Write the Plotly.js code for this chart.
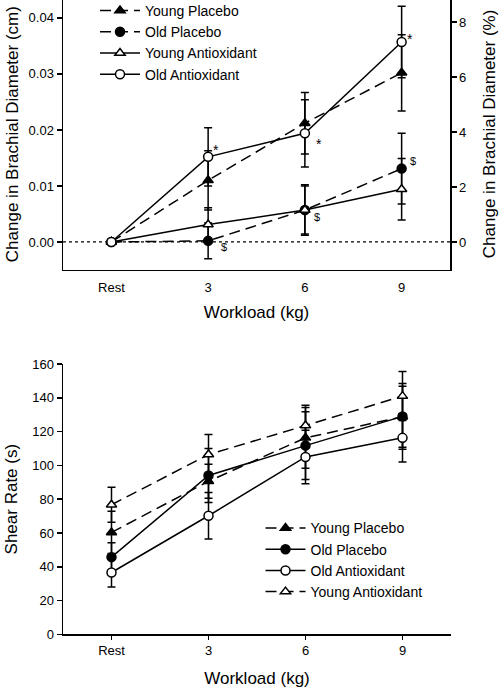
<!DOCTYPE html>
<html>
<head>
<meta charset="utf-8">
<script src="https://cdn.plot.ly/plotly-3.0.1.min.js"></script>
<style>html,body{margin:0;padding:0;background:#fff;}#chart{width:500px;height:688px;}</style>
</head>
<body>
<div id="chart"></div>
<script>
// ---- data ----
var categories = ['Rest', '3', '6', '9'];
var xIndex = [0, 1, 2, 3];

// Top panel: change in brachial diameter (cm)
var youngPlaceboDiam = [0, 0.0110, 0.0212, 0.0302];
var youngPlaceboDiamErr = [null, 0.0053, 0.0055, 0.0068];
var oldPlaceboDiam = [0, 0.0002, 0.0057, 0.0131];
var oldPlaceboDiamErr = [null, 0.0032, 0.0045, 0.0063];
var youngAntioxDiam = [0, 0.0031, 0.0057, 0.0094];
var youngAntioxDiamErr = [null, 0.0030, 0.0043, 0.0055];
var oldAntioxDiam = [0, 0.0152, 0.0194, 0.0357];
var oldAntioxDiamErr = [null, 0.0052, 0.0060, 0.0064];

var leftTicks = [0, 0.01, 0.02, 0.03, 0.04];
var rightTicks = [0, 2, 4, 6, 8];

// significance marks (top panel)
var starIdx = [1, 2, 3];     // '*' on Old Antioxidant
var dollarIdx = [1, 2, 3];   // '$' on Old Placebo

// Bottom panel: shear rate
var youngPlaceboShear = [60.3, 90.6, 116.3, 128.8];
var youngPlaceboShearErr = [12.5, 10, 18, 18];
var oldPlaceboShear = [45.7, 94, 111.7, 129];
var oldPlaceboShearErr = [8.5, 16, 20, 19.5];
var oldAntioxShear = [36.6, 70.2, 105, 116.3];
var oldAntioxShearErr = [8.6, 13.8, 15.8, 14.3];
var youngAntioxShear = [76.7, 106.4, 123.6, 141];
var youngAntioxShearErr = [10.3, 11.9, 12, 14.5];

// ---- styling helpers ----
var FONT = 'Liberation Sans, Arial, Helvetica, sans-serif';
var DASH = '11px,6px';
function errs(a){ return a.map(function(v){ return v === null ? NaN : v; }); }
function tr(name, y, e, symbol, fill, dash, xa, ya, leg){
  return {
    type: 'scatter', mode: 'lines+markers', name: name,
    x: xIndex, y: y, xaxis: xa, yaxis: ya, legend: leg,
    line: {color: '#000', width: 1.5, dash: dash},
    marker: {symbol: symbol, size: 9, color: fill, line: {color: '#000', width: 1.5}},
    error_y: {type: 'data', array: errs(e), visible: true, color: '#000', thickness: 1.5, width: 4},
    cliponaxis: false
  };
}

var data = [
  tr('Young Placebo', youngPlaceboDiam, youngPlaceboDiamErr, 'triangle-up', '#000', DASH, 'x', 'y', 'legend'),
  tr('Old Placebo', oldPlaceboDiam, oldPlaceboDiamErr, 'circle', '#000', DASH, 'x', 'y', 'legend'),
  tr('Young Antioxidant', youngAntioxDiam, youngAntioxDiamErr, 'triangle-up', '#fff', 'solid', 'x', 'y', 'legend'),
  tr('Old Antioxidant', oldAntioxDiam, oldAntioxDiamErr, 'circle', '#fff', 'solid', 'x', 'y', 'legend'),
  tr('Young Placebo', youngPlaceboShear, youngPlaceboShearErr, 'triangle-up', '#000', DASH, 'x2', 'y3', 'legend2'),
  tr('Old Placebo', oldPlaceboShear, oldPlaceboShearErr, 'circle', '#000', 'solid', 'x2', 'y3', 'legend2'),
  tr('Old Antioxidant', oldAntioxShear, oldAntioxShearErr, 'circle', '#fff', 'solid', 'x2', 'y3', 'legend2'),
  tr('Young Antioxidant', youngAntioxShear, youngAntioxShearErr, 'triangle-up', '#fff', DASH, 'x2', 'y3', 'legend2')
];
// empty trace so the right-hand (%) axis is drawn
data.push({type:'scatter', x:[], y:[], xaxis:'x', yaxis:'y2', showlegend:false, hoverinfo:'skip'});

var starShift = [[8, 7], [14, -11], [8, 3]];
var dollarShift = [[16, -6], [12, -7], [11, 8]];
var annotations = [];
starIdx.forEach(function(i, k){
  annotations.push({x: xIndex[i], y: oldAntioxDiam[i], xref:'x', yref:'y', text:'*', showarrow:false,
    xanchor:'center', yanchor:'middle',
    xshift: starShift[k][0], yshift: starShift[k][1], font:{family:FONT, size:14, color:'#000'}});
});
dollarIdx.forEach(function(i, k){
  annotations.push({x: xIndex[i], y: oldPlaceboDiam[i], xref:'x', yref:'y', text:'$', showarrow:false,
    xanchor:'center', yanchor:'middle',
    xshift: dollarShift[k][0], yshift: dollarShift[k][1], font:{family:FONT, size:11, color:'#000'}});
});
// top y-axis titles
annotations.push({xref:'paper', yref:'paper', x:0.024, y:0.805, xanchor:'center', yanchor:'middle',
  text:'Change in Brachial Diameter (cm)', textangle:-90,
  showarrow:false, font:{family:FONT, size:17, color:'#000'}});
annotations.push({xref:'paper', yref:'paper', x:0.978, y:0.805, xanchor:'center', yanchor:'middle',
  text:'Change in Brachial Diameter (%)', textangle:-90,
  showarrow:false, font:{family:FONT, size:17, color:'#000'}});

var axBase = {showgrid:false, zeroline:false, showline:true, linecolor:'#000', linewidth:1.5,
  tickfont:{family:FONT, size:13, color:'#000'}, tickcolor:'#000', tickwidth:1.5, automargin:false};

var layout = {
  width: 500, height: 688,
  margin: {l:0, r:0, t:0, b:0, autoexpand:false},
  paper_bgcolor: '#fff', plot_bgcolor: '#fff',
  font: {family: FONT, color: '#000'},
  showlegend: true,
  xaxis: Object.assign({}, axBase, {domain:[0.126, 0.9], anchor:'y', range:[-0.5, 3.5],
    tickvals: xIndex, ticktext: categories, ticks:'', ticklabelstandoff: 5,
    title:{text:'Workload (kg)', font:{family:FONT, size:17, color:'#000'}, standoff: 12}}),
  yaxis: Object.assign({}, axBase, {domain:[0.6076, 1], anchor:'x', range:[-0.005, 0.0432],
    tickvals: leftTicks, tickformat:'.2f', ticks:'outside', ticklen:5}),
  yaxis2: Object.assign({}, axBase, {overlaying:'y', side:'right', anchor:'x', range:[-1.018, 8.8],
    tickvals: rightTicks, ticks:'outside', ticklen:5}),
  xaxis2: Object.assign({}, axBase, {domain:[0.126, 0.902], anchor:'y3', range:[-0.5, 3.5],
    tickvals: xIndex, ticktext: categories, ticks:'outside', ticklen:4,
    title:{text:'Workload (kg)', font:{family:FONT, size:17, color:'#000'}, standoff: 15}}),
  yaxis3: Object.assign({}, axBase, {domain:[0.078, 0.4709], anchor:'x2', range:[0, 160], dtick:20,
    ticks:'outside', ticklen:5,
    title:{text:'Shear Rate (s)', font:{family:FONT, size:17, color:'#000'}, standoff: 10}}),
  legend: {x:0.19, y:1.0073, xanchor:'left', yanchor:'top', bgcolor:'rgba(0,0,0,0)', borderwidth:0,
    font:{family:FONT, size:14, color:'#000'}, itemwidth:40, tracegroupgap:0},
  legend2: {x:0.521, y:0.2552, xanchor:'left', yanchor:'top', bgcolor:'rgba(0,0,0,0)', borderwidth:0,
    font:{family:FONT, size:14, color:'#000'}, itemwidth:40, tracegroupgap:0},
  shapes: [{type:'line', xref:'x domain', x0:0, x1:1, yref:'y', y0:0, y1:0,
    line:{color:'#000', width:1.2, dash:'dot'}, layer:'below'}],
  annotations: annotations
};

Plotly.newPlot('chart', data, layout, {staticPlot:true, displayModeBar:false});
</script>
</body>
</html>
